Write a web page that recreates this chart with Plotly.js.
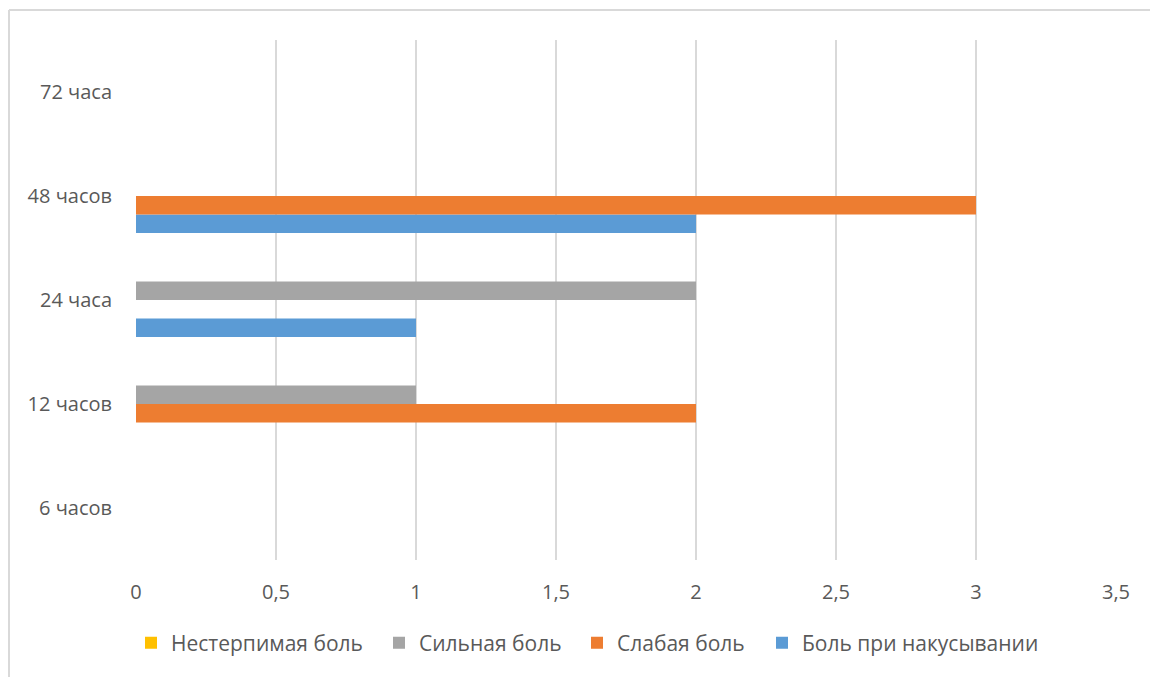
<!DOCTYPE html>
<html>
<head>
<meta charset="utf-8">
<script src="https://cdn.plot.ly/plotly-3.0.1.min.js"></script>
<style>
html,body{margin:0;padding:0;background:#fff;overflow:hidden;}
#chart{width:1150px;height:677px;}
</style>
</head>
<body>
<div id="chart"></div>
<script>
const categories = ["6 часов", "12 часов", "24 часа", "48 часов", "72 часа"];
const seriesNames = ["Боль при накусывании", "Слабая боль", "Сильная боль", "Нестерпимая боль"];
const biteValues = [0, 0, 1, 2, 0];
const weakValues = [0, 2, 0, 3, 0];
const strongValues = [0, 1, 2, 0, 0];
const unbearableValues = [0, 0, 0, 0, 0];
const seriesColors = ["#5B9BD5", "#ED7D31", "#A5A5A5", "#FFC000"];

const fontFam = "'Open Sans', 'Noto Sans', sans-serif";
const legendIds = ["legend4", "legend3", "legend2", "legend"];
// left edge (px) of each legend block, blue..yellow
const legendLeftPx = [762, 577, 379, 131];
const plotLeft = 136, plotWidth = 980;

const allValues = [biteValues, weakValues, strongValues, unbearableValues];
const traces = allValues.map((vals, i) => ({
  type: "bar",
  orientation: "h",
  name: seriesNames[i],
  y: categories,
  x: vals,
  marker: {color: seriesColors[i]},
  legend: legendIds[i],
  hoverinfo: "x+y+name"
}));

const layout = {
  width: 1150,
  height: 677,
  margin: {l: 136, r: 34, t: 40, b: 117},
  paper_bgcolor: "#ffffff",
  plot_bgcolor: "#ffffff",
  separators: ", ",
  barmode: "group",
  bargap: 0.29,
  bargroupgap: 0,
  font: {family: fontFam, size: 20, color: "#595959"},
  xaxis: {
    range: [0, 3.5],
    dtick: 0.5,
    tick0: 0,
    showgrid: true,
    gridcolor: "#d9d9d9",
    gridwidth: 1.5,
    zeroline: false,
    showline: false,
    ticks: "",
    ticklabelstandoff: 18,
    tickfont: {family: fontFam, size: 20, color: "#595959"},
    fixedrange: true
  },
  yaxis: {
    type: "category",
    showgrid: false,
    zeroline: false,
    showline: false,
    ticks: "",
    ticklabelstandoff: 23,
    tickfont: {family: fontFam, size: 20, color: "#595959"},
    fixedrange: true
  },
  shapes: [
    {type: "line", xref: "paper", yref: "paper", x0: -0.1296, x1: 1.2, y0: 1.0577, y1: 1.0577,
     line: {color: "#d9d9d9", width: 2}},
    {type: "line", xref: "paper", yref: "paper", x0: -0.1296, x1: -0.1296, y0: 1.0577, y1: -0.3,
     line: {color: "#d9d9d9", width: 2}}
  ],
  showlegend: true
};

legendIds.forEach((id, i) => {
  layout[id] = {
    orientation: "h",
    x: (legendLeftPx[i] - plotLeft) / plotWidth,
    xanchor: "left",
    y: -0.16,
    yanchor: "middle",
    bgcolor: "rgba(0,0,0,0)",
    font: {family: fontFam, size: 21, color: "#595959"},
    itemclick: false,
    itemdoubleclick: false
  };
});

Plotly.newPlot("chart", traces, layout, {displayModeBar: false});
</script>
</body>
</html>
